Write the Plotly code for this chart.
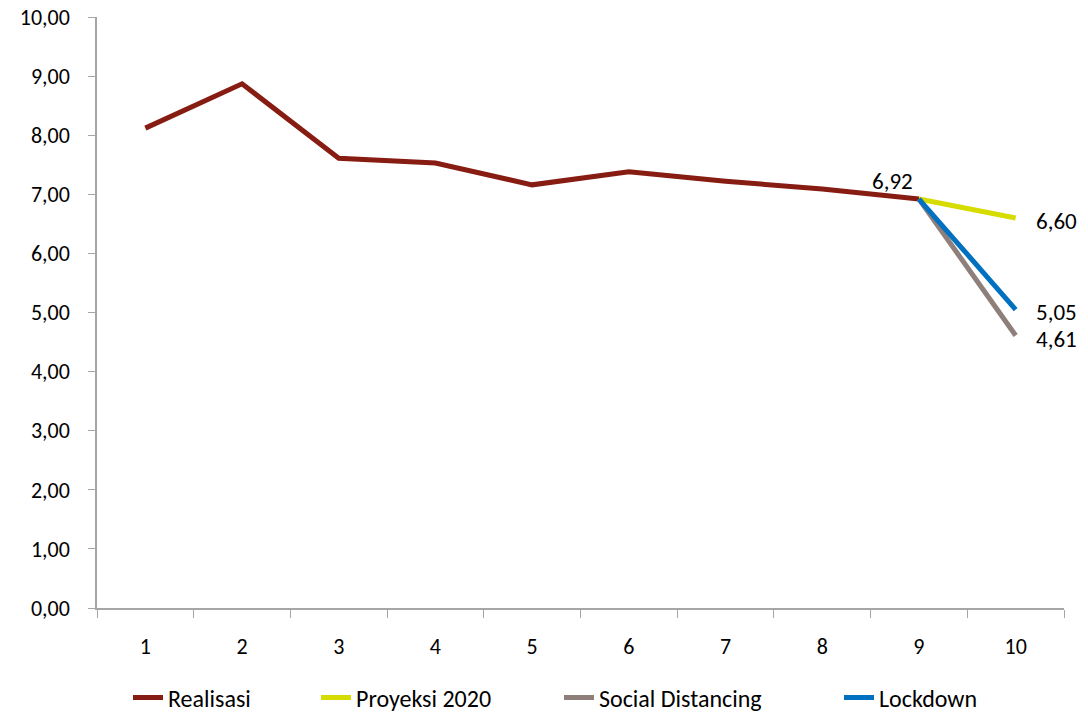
import plotly.graph_objects as go

periods = [1, 2, 3, 4, 5, 6, 7, 8, 9, 10]
realisasi = [8.12, 8.87, 7.61, 7.53, 7.16, 7.38, 7.22, 7.09, 6.92]
proyeksi = [6.92, 6.60]
social = [6.92, 4.61]
lockdown = [6.92, 5.05]
tick_labels = ["1", "2", "3", "4", "5", "6", "7", "8", "9", "10"]
series_names = ["Realisasi", "Proyeksi 2020", "Social Distancing", "Lockdown"]
series_colors = ["#861C12", "#D6DC00", "#8E7F7A", "#0070C0"]

FONT = "Carlito, Lato, Open Sans, sans-serif"
W, H = 1080, 706

def fmt(v):
    return f"{v:.2f}".replace(".", ",")

fig = go.Figure()
xs = [periods[:9], periods[8:10], periods[8:10], periods[8:10]]
ys = [realisasi, proyeksi, social, lockdown]
legend_ids = ["legend", "legend2", "legend3", "legend4"]
for xv, yv, nm, col, lg in zip(xs, ys, series_names, series_colors, legend_ids):
    fig.add_trace(go.Scatter(
        x=xv, y=yv, name=nm, mode="lines",
        line=dict(color=col, width=5), legend=lg,
    ))

ann_font = dict(family=FONT, size=23, color="black")
annotations = [
    dict(x=periods[8], y=realisasi[-1], text=fmt(realisasi[-1]), showarrow=False,
         xanchor="center", yanchor="middle", xshift=-26, yshift=18, font=ann_font),
    dict(x=periods[9], y=proyeksi[-1], text=fmt(proyeksi[-1]), showarrow=False,
         xanchor="left", yanchor="middle", xshift=18, yshift=-3, font=ann_font),
    dict(x=periods[9], y=lockdown[-1], text=fmt(lockdown[-1]), showarrow=False,
         xanchor="left", yanchor="middle", xshift=18, yshift=-2, font=ann_font),
    dict(x=periods[9], y=social[-1], text=fmt(social[-1]), showarrow=False,
         xanchor="left", yanchor="middle", xshift=18, yshift=-3, font=ann_font),
]

legend_x_px = [120, 308, 551, 831]
legend_common = dict(orientation="h", xref="container", yref="container",
                     y=(H - 690) / H, yanchor="middle", xanchor="left",
                     font=dict(size=24), bgcolor="rgba(0,0,0,0)")
legends = {}
for lg, px in zip(legend_ids, legend_x_px):
    legends[lg] = dict(legend_common, x=px / W)

fig.update_layout(
    width=W, height=H,
    margin=dict(l=89, r=24, t=9, b=106),
    plot_bgcolor="white", paper_bgcolor="white",
    separators=",.",
    font=dict(family=FONT, size=22, color="black"),
    showlegend=True,
    annotations=annotations,
    xaxis=dict(
        range=[0.5, 10.5], tickvals=periods, ticktext=tick_labels,
        showgrid=False, zeroline=False, showline=True, linecolor="#A6A6A6", linewidth=1.5,
        ticks="", ticklabelstandoff=18, automargin=False,
        minor=dict(tickvals=[i + 0.5 for i in range(0, 11)], ticks="outside",
                   ticklen=8, tickcolor="#A6A6A6", showgrid=False),
    ),
    yaxis=dict(
        range=[0, 10], dtick=1, tickformat=".2f",
        showgrid=False, zeroline=False, showline=True, linecolor="#A6A6A6", linewidth=1.5,
        ticks="outside", ticklen=7, tickcolor="#A6A6A6", automargin=False,
        tickfont=dict(size=22), ticklabelstandoff=14, ticklabeloverflow="allow",
    ),
    **legends,
)

fig.write_html("out.html")
